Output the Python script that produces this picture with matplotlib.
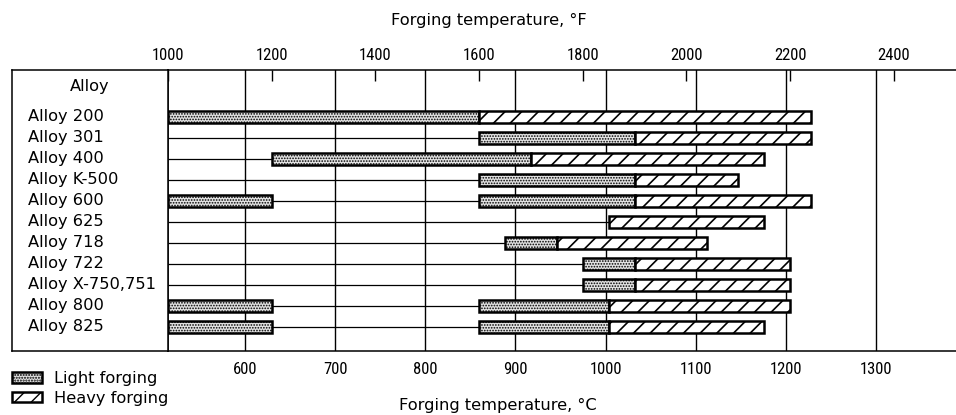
import matplotlib
matplotlib.use("Agg")
import matplotlib.pyplot as plt
import matplotlib.patches as mpatches
from matplotlib import font_manager

# Forging ranges in °F
alloys = ["Alloy 200", "Alloy 301", "Alloy 400", "Alloy K-500", "Alloy 600", "Alloy 625",
          "Alloy 718", "Alloy 722", "Alloy X-750,751", "Alloy 800", "Alloy 825"]
light_ranges = [
    [(1000, 1600)],
    [(1600, 1900)],
    [(1200, 1700)],
    [(1600, 1900)],
    [(1000, 1200), (1600, 1900)],
    [],
    [(1650, 1750)],
    [(1800, 1900)],
    [(1800, 1900)],
    [(1000, 1200), (1600, 1850)],
    [(1000, 1200), (1600, 1850)],
]
heavy_ranges = [(1600, 2240), (1900, 2240), (1700, 2150), (1900, 2100), (1900, 2240),
                (1850, 2150), (1750, 2040), (1900, 2200), (1900, 2200), (1850, 2200),
                (1850, 2150)]

f_ticks = [1000, 1200, 1400, 1600, 1800, 2000, 2200, 2400]
c_ticks = [600, 700, 800, 900, 1000, 1100, 1200, 1300]

# the printed °C scale, given as (°C, °F position) pairs as drawn on the chart
C_SCALE = ((600, 1148.5), (1300, 2365.7))


def c_to_f(c):
    (c0, f0), (c1, f1) = C_SCALE
    return f0 + (c - c0) * (f1 - f0) / (c1 - c0)


def f_to_c(f):
    (c0, f0), (c1, f1) = C_SCALE
    return c0 + (f - f0) * (c1 - c0) / (f1 - f0)


# Fonts: tick numbers are in a condensed face, pick what is installed
plt.rcParams["font.family"] = "DejaVu Sans"
fonts = font_manager.fontManager.ttflist
names = {f.name for f in fonts}
tick_font = dict(family="Liberation Sans", size=10.5, stretch="normal")
if "Liberation Sans Narrow" in names:
    tick_font = dict(family="Liberation Sans Narrow", size=12.5, stretch="normal")
elif "Roboto Condensed" in names:
    tick_font = dict(family="Roboto Condensed", size=12, stretch="normal")
elif any(f.name == "DejaVu Sans" and f.stretch == "condensed" for f in fonts):
    tick_font = dict(family="DejaVu Sans", size=10.5, stretch="condensed")
TEXT_SIZE = 11.7

W, H = 956, 415
fig = plt.figure(figsize=(W / 100, H / 100), dpi=100)


def box(x0, y0, x1, y1):
    # pixel box (from top-left) -> figure fraction rect
    return [x0 / W, 1 - y1 / H, (x1 - x0) / W, (y1 - y0) / H]


ax = fig.add_axes(box(168, 70, 956, 351))
lab = fig.add_axes(box(12, 70, 168, 351), sharey=ax)

rows = list(range(len(alloys)))
ax.set_ylim(11.16, -2.24)
ax.set_xlim(1000, 2520)

# Gridlines on the °C scale
for c in c_ticks:
    ax.axvline(c_to_f(c), color="black", linewidth=1.0, zorder=1)

LIGHT = dict(facecolor="#e2e2e2", edgecolor="black", hatch="......", linewidth=1.8)
HEAVY = dict(facecolor="white", edgecolor="black", hatch="//", linewidth=1.8)
LIGHT_HATCH_LW = 0.8
HEAVY_HATCH_LW = 1.2

for i in rows:
    h_start, h_end = heavy_ranges[i]
    ax.hlines(i, 1000, h_end, color="black", linewidth=0.9, zorder=2)
    with plt.rc_context({"hatch.linewidth": LIGHT_HATCH_LW}):
        for start, end in light_ranges[i]:
            ax.barh(i, end - start, left=start, height=0.56, zorder=3, **LIGHT)
    with plt.rc_context({"hatch.linewidth": HEAVY_HATCH_LW}):
        ax.barh(i, h_end - h_start, left=h_start, height=0.56, zorder=3, **HEAVY)

# Top axis: °F
ax.xaxis.tick_top()
ax.set_xticks(f_ticks)
ax.tick_params(axis="x", direction="in", length=8, width=1.0, pad=5)
ax.set_yticks([])
ax.spines["right"].set_visible(False)
for s in ["top", "left", "bottom"]:
    ax.spines[s].set_linewidth(1.1)

# Bottom axis: °C
sec = ax.secondary_xaxis("bottom", functions=(f_to_c, c_to_f))
sec.set_xticks(c_ticks)
sec.tick_params(length=0, pad=8)
sec.spines["bottom"].set_visible(False)

for t in ax.get_xticklabels() + sec.get_xticklabels():
    t.set_fontfamily(tick_font["family"])
    t.set_fontsize(tick_font["size"])
    t.set_fontstretch(tick_font["stretch"])

# Label column
lab.set_xticks([])
for s in lab.spines.values():
    s.set_linewidth(1.1)
lab.text(0.5, -1.43, "Alloy", transform=lab.get_yaxis_transform(),
         ha="center", va="center", fontsize=TEXT_SIZE)
for i, name in zip(rows, alloys):
    lab.text(16 / 156, i, name, transform=lab.get_yaxis_transform(),
             ha="left", va="center", fontsize=TEXT_SIZE)

# Axis titles
fig.text(489 / W, 1 - 20 / H, "Forging temperature, °F", ha="center", va="center",
         fontsize=TEXT_SIZE)
fig.text(498 / W, 1 - 405 / H, "Forging temperature, °C", ha="center", va="center",
         fontsize=TEXT_SIZE)

# Legend
with plt.rc_context({"hatch.linewidth": LIGHT_HATCH_LW}):
    light_patch = mpatches.Patch(label="Light forging", **LIGHT)
with plt.rc_context({"hatch.linewidth": HEAVY_HATCH_LW}):
    heavy_patch = mpatches.Patch(label="Heavy forging", **HEAVY)
fig.legend(handles=[light_patch, heavy_patch], loc="upper left",
           bbox_to_anchor=(12 / W, 1 - 371 / H),
           frameon=False, borderpad=0, borderaxespad=0, fontsize=TEXT_SIZE,
           handlelength=30 / 16.25, handleheight=10 / 16.25, handletextpad=0.75,
           labelspacing=0.3)

fig.savefig("out.png", dpi=100)
